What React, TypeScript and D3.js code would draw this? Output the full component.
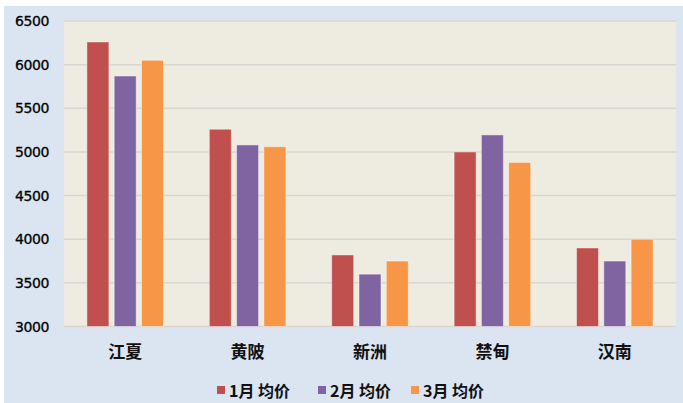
import React from "react";
import * as d3 from "d3";

const categories = ["江夏", "黄陂", "新洲", "禁甸", "汉南"];
const seriesNames = ["1月 均价", "2月 均价", "3月 均价"];
const jan = [6260, 5260, 3820, 5000, 3900];
const feb = [5870, 5080, 3600, 5195, 3750];
const mar = [6050, 5060, 3750, 4880, 4000];
const yTicks = [3000, 3500, 4000, 4500, 5000, 5500, 6000, 6500];
const colors = ["#C0504D", "#8064A2", "#F79646"];

const W = 683;
const H = 403;
const plot = { left: 64, right: 676, top: 21, bottom: 326.5 };

export default function App() {
  const series = [jan, feb, mar];
  const x = d3.scaleBand<string>().domain(categories).range([plot.left, plot.right]).padding(0);
  const inner = d3
    .scaleBand<number>()
    .domain([0, 1, 2])
    .range([-38.3, 38.3])
    .paddingInner(0.194)
    .paddingOuter(0);
  const y = d3.scaleLinear().domain([3000, 6500]).range([plot.bottom, plot.top]);
  const legendX = [217, 318, 411];

  return (
    <svg
      width={W}
      height={H}
      style={{ position: "fixed", left: 0, top: 0, display: "block" }}
    >
      <rect x={0} y={0} width={W} height={H} fill="#ffffff" />
      <rect x={4} y={6} width={W - 4} height={H - 6} fill="#DBE5F1" />
      <rect
        x={plot.left}
        y={plot.top}
        width={plot.right - plot.left}
        height={plot.bottom - plot.top}
        fill="#EEEBE0"
      />
      {yTicks.map((t) => (
        <g key={t}>
          <line
            x1={plot.left}
            x2={plot.right}
            y1={y(t)}
            y2={y(t)}
            stroke="#D9D6D2"
            strokeWidth={1.5}
          />
          <text
            x={49}
            y={y(t)}
            textAnchor="end"
            dominantBaseline="central"
            fontFamily="DejaVu Sans, sans-serif"
            fontSize={14}
            letterSpacing={-0.4}
            fill="#000"
            stroke="#000"
            strokeWidth={0.3}
          >
            {t}
          </text>
        </g>
      ))}
      {categories.map((c, i) => {
        const cx = (x(c) ?? 0) + x.bandwidth() / 2;
        return (
          <g key={c}>
            {series.map((s, si) => (
              <rect
                key={si}
                x={cx + (inner(si) ?? 0)}
                y={y(s[i])}
                width={inner.bandwidth()}
                height={plot.bottom - y(s[i])}
                fill={colors[si]}
                stroke="rgba(255,255,255,0.45)"
                strokeWidth={1}
              />
            ))}
            <text
              x={cx}
              y={350}
              textAnchor="middle"
              dominantBaseline="central"
              fontFamily="Noto Sans CJK SC, sans-serif"
              fontWeight="bold"
              fontSize={17}
              fill="#111"
            >
              {c}
            </text>
          </g>
        );
      })}
      {seriesNames.map((n, si) => (
        <g key={n}>
          <rect x={legendX[si]} y={386} width={8} height={8} fill={colors[si]} />
          <text
            x={legendX[si] + 12}
            y={390}
            dominantBaseline="central"
            fontFamily="Noto Sans CJK SC, sans-serif"
            fontWeight="bold"
            fontSize={16}
            fill="#111"
          >
            {n}
          </text>
        </g>
      ))}
    </svg>
  );
}
